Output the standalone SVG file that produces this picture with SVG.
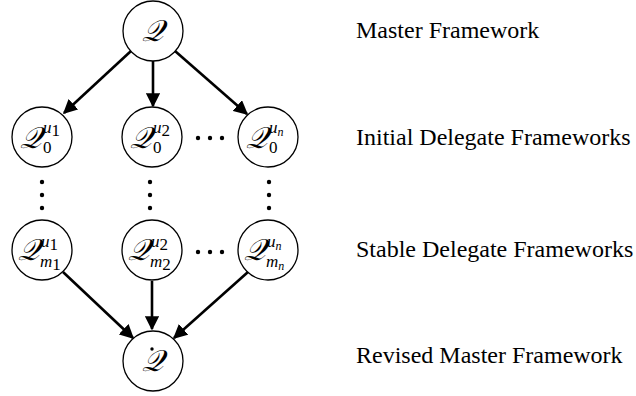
<svg xmlns="http://www.w3.org/2000/svg" width="636" height="396" viewBox="0 0 636 396">
<style>
.node{fill:#fff;stroke:#000;stroke-width:1.3}
.q{font-family:"DejaVu Serif","Liberation Serif",serif;font-style:italic;font-size:30px;fill:#000}
.s{font-family:"Liberation Serif",serif;font-style:italic;font-size:17px;fill:#000}
.n{font-family:"Liberation Serif",serif;font-style:normal;font-size:17px;fill:#000}
.lab{font-family:"Liberation Serif","Times New Roman",serif;font-size:24px;fill:#000}
.edge{stroke:#000;stroke-width:2.6;fill:none;marker-end:url(#ah)}
</style>
<defs>
<marker id="ah" viewBox="0 0 10 10" refX="9" refY="5" markerWidth="5.5" markerHeight="5.5" orient="auto" markerUnits="strokeWidth">
<path d="M0,0 L10,5 L0,10 z" fill="#000"/>
</marker>
</defs>
<g id="connectors">
<line class="edge" x1="131" y1="51" x2="64" y2="113"/>
<line class="edge" x1="153" y1="61" x2="153" y2="106"/>
<line class="edge" x1="175" y1="51" x2="247" y2="114"/>
<line class="edge" x1="63" y1="272" x2="133" y2="338"/>
<line class="edge" x1="152" y1="281" x2="152" y2="329"/>
<line class="edge" x1="248" y1="272" x2="174" y2="338"/>
</g>
<g id="n-master">
<circle class="node" cx="153" cy="31" r="30"/>
<text class="q" x="153" y="41" text-anchor="middle">𝒬</text>
</g>
<g id="n-d1-0">
<circle class="node" cx="42" cy="137" r="30"/>
<text class="q" x="20" y="148">𝒬</text>
<text class="s" x="43" y="133">u<tspan class="n" font-size="12" dy="3">1</tspan></text>
<text class="n" x="43" y="153">0</text>
</g>
<g id="n-d2-0">
<circle class="node" cx="152" cy="137" r="30"/>
<text class="q" x="130" y="148">𝒬</text>
<text class="s" x="153" y="133">u<tspan class="n" font-size="12" dy="3">2</tspan></text>
<text class="n" x="153" y="153">0</text>
</g>
<g id="n-dn-0">
<circle class="node" cx="268" cy="137" r="30"/>
<text class="q" x="246" y="148">𝒬</text>
<text class="s" x="269" y="133">u<tspan font-size="12" dy="3">n</tspan></text>
<text class="n" x="269" y="153">0</text>
</g>
<g id="n-d1-m">
<circle class="node" cx="42" cy="250" r="30"/>
<text class="q" x="18" y="260">𝒬</text>
<text class="s" x="41" y="247">u<tspan class="n" font-size="12" dy="3">1</tspan></text>
<text class="s" x="40" y="267">m<tspan class="n" font-size="12" dy="3">1</tspan></text>
</g>
<g id="n-d2-m">
<circle class="node" cx="152" cy="250" r="30"/>
<text class="q" x="128" y="260">𝒬</text>
<text class="s" x="151" y="247">u<tspan class="n" font-size="12" dy="3">2</tspan></text>
<text class="s" x="150" y="267">m<tspan class="n" font-size="12" dy="3">2</tspan></text>
</g>
<g id="n-dn-m">
<circle class="node" cx="268" cy="250" r="30"/>
<text class="q" x="244" y="260">𝒬</text>
<text class="s" x="267" y="247">u<tspan font-size="12" dy="3">n</tspan></text>
<text class="s" x="266" y="267">m<tspan font-size="12" dy="3">n</tspan></text>
</g>
<g id="n-revised">
<circle class="node" cx="153" cy="361" r="30"/>
<text class="q" x="153" y="371" text-anchor="middle">𝒬</text>
<circle cx="152" cy="349" r="1.7" fill="#000"/>
</g>
<g id="dots" fill="#000">
<circle cx="42" cy="182" r="2.2"/><circle cx="42" cy="195" r="2.2"/><circle cx="42" cy="208" r="2.2"/>
<circle cx="150" cy="182" r="2.2"/><circle cx="150" cy="195" r="2.2"/><circle cx="150" cy="208" r="2.2"/>
<circle cx="269" cy="182" r="2.2"/><circle cx="269" cy="195" r="2.2"/><circle cx="269" cy="208" r="2.2"/>
<circle cx="198" cy="138" r="2.2"/><circle cx="210" cy="138" r="2.2"/><circle cx="222" cy="138" r="2.2"/>
<circle cx="198" cy="252" r="2.2"/><circle cx="210" cy="252" r="2.2"/><circle cx="222" cy="252" r="2.2"/>
</g>
<g id="labels">
<text class="lab" x="356" y="38">Master Framework</text>
<text class="lab" x="356" y="145">Initial Delegate Frameworks</text>
<text class="lab" x="356" y="257">Stable Delegate Frameworks</text>
<text class="lab" x="356" y="363">Revised Master Framework</text>
</g>
</svg>
